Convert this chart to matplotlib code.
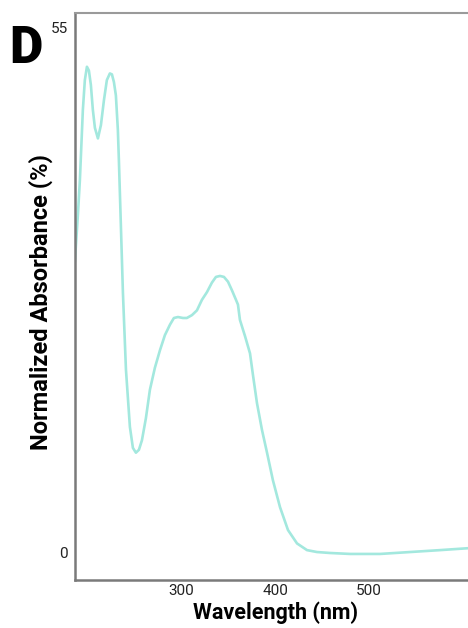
import numpy as np
import matplotlib
matplotlib.use("Agg")
import matplotlib.pyplot as plt

plt.rcParams['font.family'] = ['Roboto', 'DejaVu Sans']

# spectrum
wavelength = [187.0, 190.2, 192.3, 195.5, 197.6, 199.8, 201.9, 204.0, 206.1, 208.3,
              211.5, 214.7, 217.9, 221.0, 224.2, 226.4, 228.5, 230.6, 232.7, 233.8,
              235.9, 238.1, 241.3, 245.5, 248.7, 251.9, 255.1, 258.3, 262.5, 266.8,
              272.1, 277.4, 282.7, 288.1, 292.3, 296.6, 301.9, 306.1, 311.5, 316.8,
              322.1, 327.4, 332.7, 337.0, 341.3, 345.5, 349.8, 354.0, 358.3, 360.4,
              362.5, 367.9, 373.2, 376.4, 380.6, 385.9, 391.3, 397.6, 405.1, 413.6,
              423.2, 433.8, 444.4, 458.3, 479.6, 511.5, 543.4, 575.3, 605.1]
absorbance = [30.5, 35.4, 39.0, 46.4, 49.5, 50.9, 50.5, 49.0, 46.4, 44.5,
              43.4, 44.8, 47.4, 49.5, 50.2, 50.1, 49.3, 47.9, 44.3, 41.1,
              34.3, 27.2, 19.2, 13.2, 11.0, 10.5, 10.8, 11.8, 14.1, 17.1,
              19.4, 21.2, 22.8, 23.9, 24.6, 24.7, 24.6, 24.6, 24.9, 25.4,
              26.5, 27.3, 28.3, 28.9, 29.0, 28.9, 28.4, 27.5, 26.5, 26.0,
              24.4, 22.7, 20.9, 18.6, 15.7, 12.9, 10.5, 7.6, 4.8, 2.4,
              1.0, 0.3, 0.1, 0.0, -0.1, -0.1, 0.1, 0.3, 0.5]

xticks = [300, 400, 500]
yticks = [0, 55]

fig = plt.figure(figsize=(4.68, 6.28), dpi=100)
ax = fig.add_axes([0.160, 0.0764, 0.840, 0.9025])
ax.plot(wavelength, absorbance, color='#a3e8de', lw=1.9,
        solid_capstyle='round', solid_joinstyle='round')

ax.set_xlim(187, 605)
ax.set_ylim(-2.83, 56.5)
ax.set_xticks(xticks)
ax.set_yticks(yticks)
ax.tick_params(length=0, labelsize=11, colors='#222222', pad=5)
ax.tick_params(axis='x', pad=3)

for s in ['left', 'bottom']:
    ax.spines[s].set_color('#7a7a7a')
    ax.spines[s].set_linewidth(1.8)
ax.spines['top'].set_color('#9a9a9a')
ax.spines['top'].set_linewidth(1.5)
ax.spines['right'].set_visible(False)

ax.set_xlabel('Wavelength (nm)', fontsize=15.5, fontweight='bold')
ax.set_ylabel('Normalized Absorbance (%)', fontsize=17, fontweight='bold')
ax.xaxis.set_label_coords(0.511, -0.037)
ax.yaxis.set_label_coords(-0.056, 0.49)

fig.text(0.019, 0.899, 'D', fontsize=37, fontweight='heavy', ha='left', va='baseline')

fig.savefig('out.png', dpi=100)
